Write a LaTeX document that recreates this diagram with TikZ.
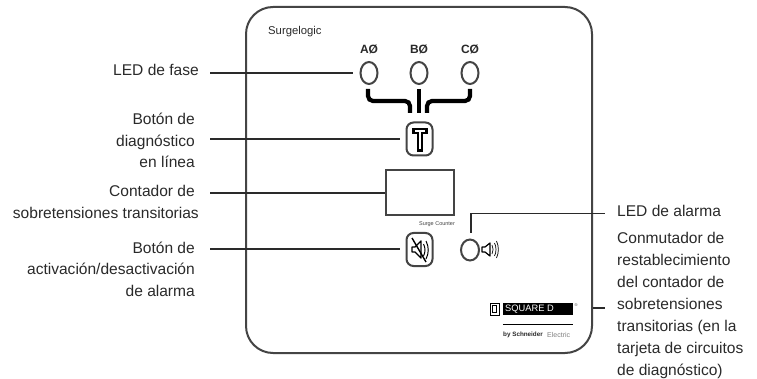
\documentclass[tikz,border=0pt]{standalone}
\usepackage{fontspec}
\setmainfont{Liberation Sans}
\usetikzlibrary{shapes.geometric}
\definecolor{ink}{HTML}{2A2A2A}
\definecolor{panelc}{HTML}{444444}
\tikzset{
 x=1pt,y=-1pt,
 lab/.style={font=\fontsize{15.55}{21.6}\selectfont,text=ink,inner sep=0pt,align=right,anchor=east},
 labr/.style={font=\fontsize{15.55}{22}\selectfont,text=ink,inner sep=0pt,align=left,anchor=north west},
 lead/.style={draw=ink,line width=1.6pt},
 led/.style={draw=panelc,line width=2pt,ellipse,minimum width=17pt,minimum height=22pt,inner sep=0pt},
 btn/.style={draw=panelc,line width=2pt,rounded corners=7pt,minimum width=26pt,minimum height=33pt,inner sep=0pt},
 bus/.style={draw=black,line width=4.2pt,rounded corners=5pt},
 phase/.style={font=\bfseries\fontsize{12}{14}\selectfont,text=ink,inner sep=0pt},
}
\begin{document}
\begin{tikzpicture}
\useasboundingbox (0,0) rectangle (757,379);
\fill[white] (0,0) rectangle (757,379);
\node[draw=panelc,line width=2pt,rounded corners=27pt,minimum width=346pt,minimum height=346pt,inner sep=0pt] (panel) at (419,180) {};
\node[font=\fontsize{11.3}{13}\selectfont,text=ink,inner sep=0pt,anchor=west] (brand) at (268,32) {Surgelogic};
\node[led] (la) at (369,73) {};
\node[led] (lb) at (419,73) {};
\node[led] (lc) at (470,73) {};
\node[phase] (ta) at (369,49) {AØ};
\node[phase] (tb) at (419,49) {BØ};
\node[phase] (tc) at (470,49) {CØ};
\node[btn] (test) at (419.5,139) {};
\node[btn] (mute) at (419.5,249.5) {};
\node[draw=panelc,line width=2pt,minimum width=68pt,minimum height=45pt,inner sep=0pt] (counter) at (419.5,192.5) {};
\node[font=\fontsize{5.5}{6}\selectfont,text=panelc,inner sep=0pt] (sc) at (437,224) {Surge Counter};
\node[draw=panelc,line width=2pt,ellipse,minimum width=18pt,minimum height=21pt,inner sep=0pt] (alarm) at (470,250) {};
% bus
\coordinate (a1) at (368,89); \coordinate (a2) at (368,101); \coordinate (a3) at (410,101); \coordinate (a4) at (410,113);
\coordinate (b1) at (418.7,89); \coordinate (b2) at (418.7,113);
\coordinate (c1) at (470,89); \coordinate (c2) at (470,101); \coordinate (c3) at (427,101); \coordinate (c4) at (427,113);
\draw[bus] (a1) -- (a2) -- (a3) -- (a4);
\draw[bus] (b1) -- (b2);
\draw[bus] (c1) -- (c2) -- (c3) -- (c4);
% T glyph
\draw[black,line width=6.6pt,line join=round] (412,131) -- (428,131) (420,131) -- (420,152);
\draw[white,line width=1.3pt] (415,131) -- (425,131) (420,131) -- (420,149);
% mute speaker
\draw[black,line width=1.4pt,line join=round] (412,247) -- (415,247) -- (421,241) -- (421,258) -- (415,252) -- (412,252) -- cycle;
\draw[black,line width=1pt] (423.5,244) .. controls (425.5,248) and (425.5,252) .. (423.5,256);
\draw[black,line width=1pt] (426,241) .. controls (429,247) and (429,253) .. (426,259);
\draw[black,line width=1.4pt] (412,238) -- (426,262);
% alarm speaker
\draw[black,line width=1.2pt,line join=round] (482,247) -- (485,247) -- (490,243) -- (490,256) -- (485,252) -- (482,252) -- cycle;
\draw[black,line width=0.7pt] (492,245) .. controls (493.5,248) and (493.5,251) .. (492,254);
\draw[black,line width=0.7pt] (494.5,243) .. controls (496.5,247) and (496.5,252) .. (494.5,256);
\draw[black,line width=0.7pt] (496.5,241) .. controls (499,247) and (499,252) .. (496.5,258);
% labels
\node[lab] (l1) at (199,70) {LED de fase};
\node[lab] (l2) at (195,140.7) {Botón de\\diagnóstico\\en línea};
\node[lab] (l3) at (199,202) {Contador de\rule{4pt}{0pt}\\sobretensiones transitorias};
\node[lab] (l4) at (195,269) {Botón de\\activación/desactivación\\de alarma};
\node[labr] (r1) at (617,205) {LED de alarma};
\node[labr] (r2) at (617,232) {Conmutador de\\restablecimiento\\del contador de\\sobretensiones\\transitorias (en la\\tarjeta de circuitos\\de diagnóstico)};
% leaders
\coordinate (s1) at (210,73); \coordinate (e1) at (353,73);
\coordinate (s2) at (210,139); \coordinate (e2) at (400,139);
\coordinate (s3) at (210,193);
\coordinate (s4) at (210,249); \coordinate (e4) at (400,249);
\coordinate (e5a) at (471,233); \coordinate (e5b) at (471,213.5); \coordinate (e5c) at (605,213.5);
\coordinate (e6) at (605,308);
\draw[lead] (s1) -- (e1);
\draw[lead] (s2) -- (e2);
\draw[lead] (s3) -- (counter.west |- s3);
\draw[lead] (s4) -- (e4);
\draw[lead] (e5a) -- (e5b) -- (e5c);
\draw[lead] (panel.east |- e6) -- (e6);
% logo
\node[draw=black,line width=1pt,minimum width=9pt,minimum height=12pt,inner sep=0pt] (dbox) at (494.5,309) {};
\node[draw=black,line width=1pt,minimum width=4pt,minimum height=7pt,inner sep=0pt] (dinner) at (494.5,309) {};
\node[fill=black,minimum width=70pt,minimum height=12pt,inner sep=0pt] (bar) at (538,309) {};
\node[font=\fontsize{9.3}{10}\selectfont,text=white,inner sep=0pt,anchor=west] (sq) at (505,309) {SQUARE D};
\node[font=\fontsize{4}{5}\selectfont,text=panelc,inner sep=0pt] (reg) at (576,305) {®};
\draw[black,line width=0.8pt] (bar.west |- 0,324) -- (bar.east |- 0,324);
\node[font=\bfseries\fontsize{6.3}{7}\selectfont,text=ink,inner sep=0pt,anchor=west] (sch) at (503,335) {by Schneider};
\node[font=\fontsize{7}{7}\selectfont,text=gray,inner sep=0pt,anchor=west] (el) at (547,335) {Electric};
\end{tikzpicture}
\end{document}
